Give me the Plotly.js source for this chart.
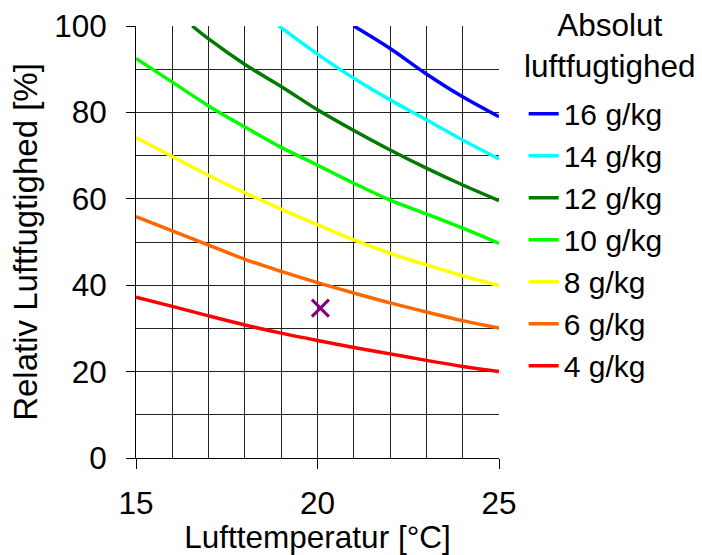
<!DOCTYPE html>
<html><head><meta charset="utf-8">
<script src="https://cdn.plot.ly/plotly-3.0.1.min.js"></script>
<style>html,body{margin:0;padding:0;background:#fff}#chart{width:702px;height:555px}</style>
</head><body><div id="chart"></div>
<script>
// Temperatures (°C)
const tempFull = [15, 16, 17, 18, 19, 20, 21, 22, 23, 24, 25];
const temp12 = [16.55, 17, 18, 19, 20, 21, 22, 23, 24, 25];
const temp14 = [18.93, 19, 20, 21, 22, 23, 24, 25];
const temp16 = [21.0, 22, 23, 24, 25];
// Relative humidity (%) per absolute humidity
const rh4  = [37.2, 35.1, 32.9, 30.8, 28.9, 27.2, 25.6, 24.1, 22.6, 21.2, 20.0];
const rh6  = [55.9, 52.6, 49.3, 46.0, 43.2, 40.6, 38.2, 35.9, 33.8, 31.8, 30.1];
const rh8  = [74.2, 69.8, 65.4, 61.4, 57.6, 54.0, 50.5, 47.4, 44.7, 42.2, 39.9];
const rh10 = [92.5, 87.0, 81.5, 76.6, 71.9, 67.8, 63.6, 59.7, 56.5, 53.2, 49.7];
const rh12 = [100, 97.0, 91.1, 86.0, 80.6, 75.8, 71.3, 67.1, 63.2, 59.6];
const rh14 = [100, 99.6, 93.5, 87.9, 82.9, 78.3, 73.6, 69.2];
const rh16 = [100, 94.8, 88.9, 83.6, 79.0];
const seriesNames = ['16 g/kg', '14 g/kg', '12 g/kg', '10 g/kg', '8 g/kg', '6 g/kg', '4 g/kg'];
const seriesColors = ['#0000ff', '#00ffff', '#007a00', '#00ff00', '#ffff00', '#ff6600', '#ff0000'];
const legendTitle = 'Absolut<br>luftfugtighed';
// Measured point
const pointT = [20.08];
const pointRH = [34.7];

const xs = [temp16, temp14, temp12, tempFull, tempFull, tempFull, tempFull];
const ys = [rh16, rh14, rh12, rh10, rh8, rh6, rh4];

const FONT = 'Liberation Sans, Arial, sans-serif';
const FS = 31.5;
const traces = seriesNames.map((n, i) => ({
  type: 'scatter', mode: 'lines', name: n, x: xs[i], y: ys[i],
  line: {color: seriesColors[i], width: 3.5, shape: 'spline'}
}));
traces.push({
  type: 'scatter', mode: 'markers', x: pointT, y: pointRH, showlegend: false,
  marker: {symbol: 'x-thin', size: 17, color: '#800080', line: {color: '#800080', width: 3}}
});

const layout = {
  width: 702, height: 555,
  margin: {l: 136, r: 203, t: 26, b: 97},
  paper_bgcolor: '#fff', plot_bgcolor: '#fff',
  font: {family: FONT, size: FS, color: '#000'},
  showlegend: true,
  legend: {
    x: 1.068, xanchor: 'left', y: 0.857, yanchor: 'top', maxheight: 555,
    font: {family: FONT, size: 30, color: '#000'},
    bgcolor: 'rgba(0,0,0,0)'
  },
  annotations: [{
    text: legendTitle, xref: 'paper', yref: 'paper',
    x: (610 - 136) / 363, y: (458 - 46) / 432, xanchor: 'center', yanchor: 'middle',
    showarrow: false, align: 'center', font: {family: FONT, size: FS, color: '#000'}
  }],
  xaxis: {
    range: [15, 25], tickvals: [15, 20, 25], ticktext: ['15', '20', '25'],
    ticks: 'outside', ticklen: 10, tickcolor: '#000', tickwidth: 1,
    ticklabelstandoff: 7,
    showgrid: true, gridcolor: '#222', gridwidth: 1,
    minor: {dtick: 1, showgrid: true, gridcolor: '#222', gridwidth: 1, ticks: ''},
    showline: true, linecolor: '#000', linewidth: 1, zeroline: false,
    tickfont: {family: FONT, size: FS},
    title: {text: 'Lufttemperatur [°C]', font: {family: FONT, size: FS}, standoff: 6},
    automargin: false
  },
  yaxis: {
    range: [0, 100], tickvals: [0, 20, 40, 60, 80, 100],
    ticks: 'outside', ticklen: 9, tickcolor: '#000', tickwidth: 1,
    ticklabelstandoff: 13,
    showgrid: true, gridcolor: '#222', gridwidth: 1,
    minor: {dtick: 10, showgrid: true, gridcolor: '#222', gridwidth: 1, ticks: ''},
    showline: true, linecolor: '#000', linewidth: 1, zeroline: false,
    tickfont: {family: FONT, size: FS},
    title: {text: 'Relativ Luftfugtighed [%]', font: {family: FONT, size: 33}, standoff: 6},
    automargin: false
  }
};
Plotly.newPlot('chart', traces, layout, {displayModeBar: false, staticPlot: true});
</script>
</body></html>
